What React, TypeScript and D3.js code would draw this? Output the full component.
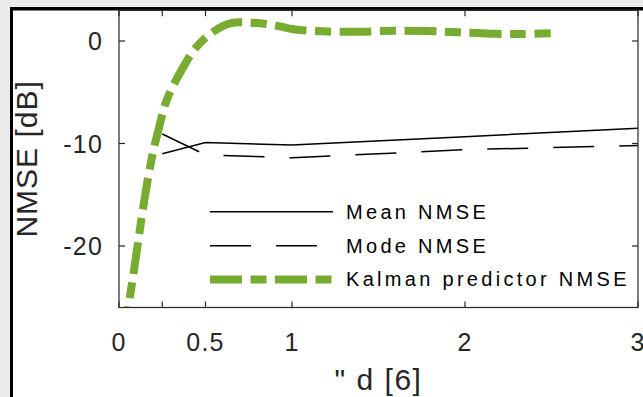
import React from "react";
import * as d3 from "d3";

const W = 643;
const H = 397;

// x ticks (the 0.25 tick has no label)
const xTicks = [0, 0.25, 0.5, 1, 2, 3];
const xTickLabels = ["0", "", "0.5", "1", "2", "3"];
const yTicks = [0, -10, -20];

// Mean / Mode NMSE, sampled at these delays
const delays = [0.25, 0.5, 1, 2, 3];
const meanNmse = [-11.0, -9.9, -10.15, -9.33, -8.5];
const modeNmse = [-9.07, -11.1, -11.4, -10.6, -10.2];

// Kalman predictor NMSE
const kalmanX = [
  0.03, 0.054, 0.081, 0.112, 0.142, 0.168, 0.197, 0.228, 0.276, 0.362, 0.449,
  0.545, 0.642, 0.757, 0.892, 1.008, 1.229, 1.393, 1.586, 1.775, 1.961, 2.154,
  2.337, 2.495,
];
const kalmanY = [
  -29, -25.95, -23.02, -19.41, -16.0, -13.37, -10.83, -8.68, -5.76, -2.83,
  -0.56, 0.91, 1.73, 1.79, 1.56, 1.14, 0.91, 0.91, 1.0, 0.98, 0.85, 0.71, 0.68,
  0.75,
];

const legendItems = [
  { label: "Mean NMSE", color: "#000", width: 1.5, dash: "none" },
  { label: "Mode NMSE", color: "#000", width: 1.5, dash: "41 25" },
  { label: "Kalman predictor NMSE", color: "#77AC30", width: 8, dash: "32 8.5 16 8.5" },
];

const FONT = "'Liberation Sans', Arial, Helvetica, sans-serif";
const AX = "#262626";

export default function App() {
  const left = 119;
  const right = 638;
  const top = 10.25;
  const bottom = 307.5;

  const x = d3.scaleLinear().domain([0, 3]).range([left, right]);
  const y = d3.scaleLinear().domain([-26, 3]).range([bottom, top]);

  const line = d3
    .line<[number, number]>()
    .x((d) => x(d[0]))
    .y((d) => y(d[1]));

  const smooth = d3
    .line<[number, number]>()
    .x((d) => x(d[0]))
    .y((d) => y(d[1]))
    .curve(d3.curveCatmullRom.alpha(0.5));

  const meanPts = delays.map((d, i) => [d, meanNmse[i]] as [number, number]);
  const modePts = delays.map((d, i) => [d, modeNmse[i]] as [number, number]);
  const kalPts = kalmanX.map((d, i) => [d, kalmanY[i]] as [number, number]);

  const tickLen = 6;

  return (
    <svg
      width={W}
      height={H}
      style={{ position: "absolute", left: 0, top: 0, display: "block" }}
      fontFamily={FONT}
    >
      <defs>
        <clipPath id="plot">
          <rect x={left} y={top} width={right - left} height={bottom - top} />
        </clipPath>
      </defs>
      {/* page background and frame */}
      <rect x={0} y={0} width={W} height={H} fill="#ebebeb" />
      <rect x={11.5} y={8.5} width={W} height={H} fill="#fff" />
      <line x1={10} x2={W} y1={8.7} y2={8.7} stroke="#000" strokeWidth={3.5} />
      <line x1={11.5} x2={11.5} y1={7} y2={H} stroke="#000" strokeWidth={3} />

      {/* data */}
      <g clipPath="url(#plot)" fill="none">
        <path d={line(meanPts) || ""} stroke="#000" strokeWidth={1.5} />
        <path d={line(modePts) || ""} stroke="#000" strokeWidth={1.5} strokeDasharray="41 25" />
        <path
          d={smooth(kalPts) || ""}
          stroke="#77AC30"
          strokeWidth={8}
          strokeDasharray="32 8.5 16 8.5"
        />
      </g>

      {/* axes box */}
      <rect
        x={left}
        y={top}
        width={right - left}
        height={bottom - top}
        fill="none"
        stroke={AX}
        strokeWidth={1.2}
      />
      {xTicks.map((t, i) => (
        <g key={"x" + i}>
          <line x1={x(t)} x2={x(t)} y1={bottom} y2={bottom - tickLen} stroke={AX} strokeWidth={1.2} />
          <line x1={x(t)} x2={x(t)} y1={top} y2={top + tickLen} stroke={AX} strokeWidth={1.2} />
          <text
            x={x(t)}
            y={351}
            fontSize={25}
            letterSpacing={1.2}
            textAnchor="middle"
            fill={AX}
          >
            {xTickLabels[i]}
          </text>
        </g>
      ))}
      {yTicks.map((t) => (
        <g key={"y" + t}>
          <line x1={left} x2={left + tickLen} y1={y(t)} y2={y(t)} stroke={AX} strokeWidth={1.2} />
          <line x1={right} x2={right - tickLen} y1={y(t)} y2={y(t)} stroke={AX} strokeWidth={1.2} />
          <text
            x={103}
            y={y(t) + 9}
            fontSize={25}
            letterSpacing={1.2}
            textAnchor="end"
            fill={AX}
          >
            {t}
          </text>
        </g>
      ))}

      {/* axis labels */}
      <text
        x={(left + right) / 2}
        y={390}
        fontSize={30}
        letterSpacing={1.5}
        textAnchor="middle"
        fill={AX}
      >
        {'" d [6]'}
      </text>
      <text
        transform={`translate(37, ${(top + bottom) / 2}) rotate(-90)`}
        fontSize={30}
        letterSpacing={1}
        textAnchor="middle"
        fill={AX}
      >
        NMSE [dB]
      </text>

      {/* legend */}
      {legendItems.map((it, i) => {
        const ly = [211.7, 245.7, 279.5][i];
        return (
          <g key={it.label}>
            <line
              x1={210}
              x2={333}
              y1={ly}
              y2={ly}
              stroke={it.color}
              strokeWidth={it.width}
              strokeDasharray={it.dash}
            />
            <text x={346} y={ly + 6.8} fontSize={20} letterSpacing={3.3} fill="#000">
              {it.label}
            </text>
          </g>
        );
      })}
    </svg>
  );
}
